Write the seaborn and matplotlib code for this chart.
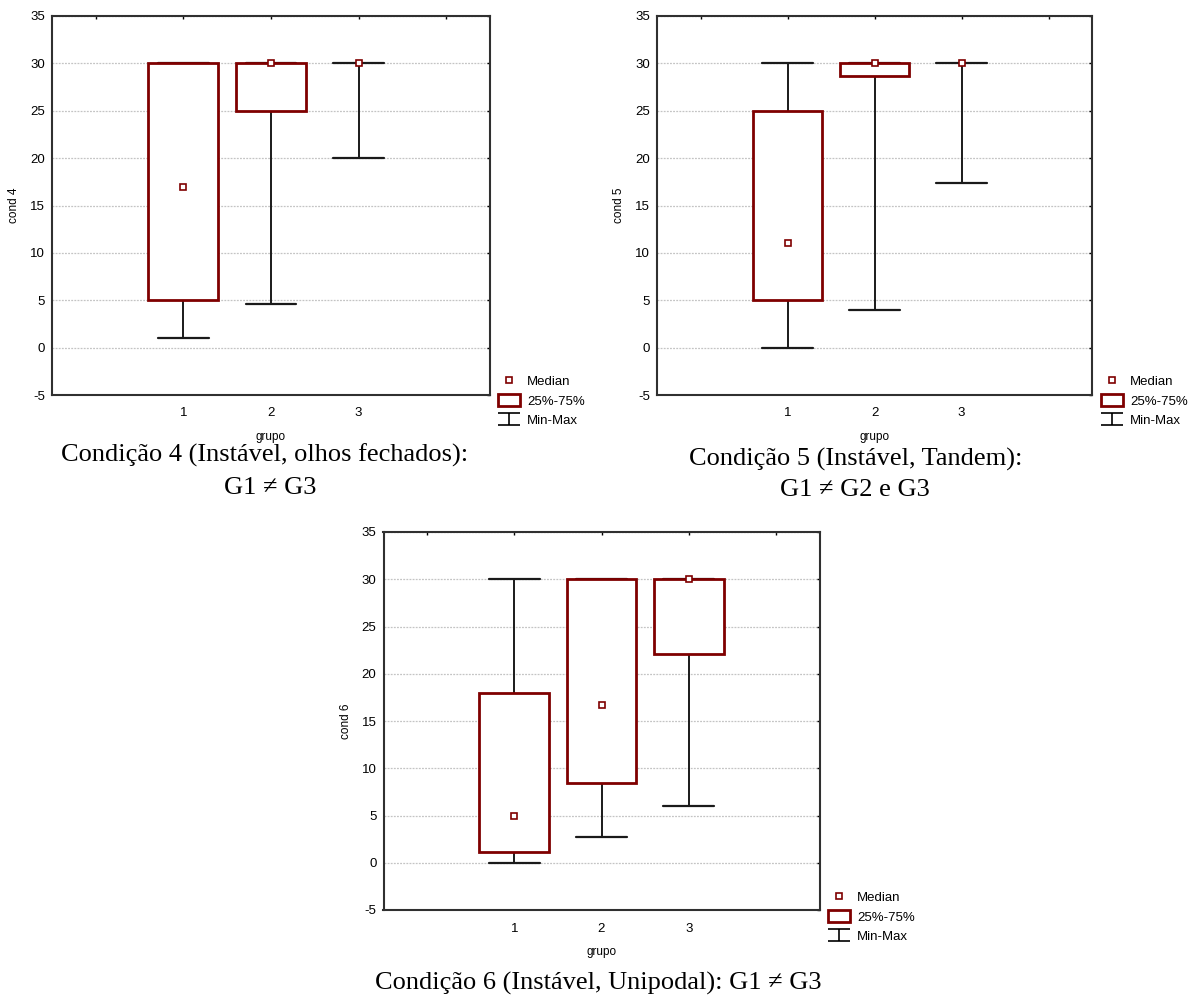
import numpy as np
import pandas as pd
import matplotlib
matplotlib.use('Agg')
import matplotlib.pyplot as plt
from matplotlib.lines import Line2D
from matplotlib.patches import Patch
from matplotlib.path import Path
import seaborn as sns

# Valores (Statistica, Min-Max / 25%-75% / Mediana)
grupos = ['1', '2', '3']

cond4_min = [1.0, 4.6, 20.0]
cond4_q1 = [5.0, 25.0, 30.0]
cond4_med = [17.0, 30.0, 30.0]
cond4_q3 = [30.0, 30.0, 30.0]
cond4_max = [30.0, 30.0, 30.0]

cond5_min = [0.0, 4.0, 17.4]
cond5_q1 = [5.0, 28.7, 30.0]
cond5_med = [11.0, 30.0, 30.0]
cond5_q3 = [25.0, 30.0, 30.0]
cond5_max = [30.0, 30.0, 30.0]

cond6_min = [0.0, 2.7, 6.0]
cond6_q1 = [1.1, 8.4, 22.1]
cond6_med = [5.0, 16.7, 30.0]
cond6_q3 = [18.0, 30.0, 30.0]
cond6_max = [30.0, 30.0, 30.0]

y_ticks = [-5, 0, 5, 10, 15, 20, 25, 30, 35]
legend_labels = ['Median', '25%-75%', 'Min-Max']

sns.set_style('white')
plt.rcParams['font.family'] = ['Liberation Sans', 'DejaVu Sans']
plt.rcParams['axes.unicode_minus'] = False
plt.rcParams['text.color'] = 'black'
plt.rcParams['axes.labelcolor'] = 'black'

RED = '#7f0000'

# marcador "I" para a legenda Min-Max
minmax_marker = Path([(-1, 0.5), (1, 0.5), (0, 0.5), (0, -0.5), (-1, -0.5), (1, -0.5)],
                     [Path.MOVETO, Path.LINETO, Path.MOVETO, Path.LINETO,
                      Path.MOVETO, Path.LINETO])


def make_long(mins, q1s, meds, q3s, maxs):
    # cinco valores por grupo -> quartis exatos com interpolação linear
    rows = []
    for g, a, b, c, d, e in zip(grupos, mins, q1s, meds, q3s, maxs):
        for v in (a, b, c, d, e):
            rows.append({'grupo': g, 'valor': v})
    return pd.DataFrame(rows)


def draw_panel(fig, rect, mins, q1s, meds, q3s, maxs, ylabel, legend_xy):
    ax = fig.add_axes(rect)
    df = make_long(mins, q1s, meds, q3s, maxs)
    ax.yaxis.grid(True, color='#c4c4c4', linestyle=(0, (1.5, 1.0)), linewidth=0.9, zorder=0)
    ax.set_axisbelow(True)
    sns.boxplot(data=df, x='grupo', y='valor', order=grupos, ax=ax,
                whis=(0, 100), width=0.8, capwidths=0.58,
                boxprops={'facecolor': 'white', 'edgecolor': RED, 'linewidth': 2.0, 'zorder': 3},
                whiskerprops={'color': '#1a1a1a', 'linewidth': 1.4},
                capprops={'color': '#1a1a1a', 'linewidth': 1.6},
                medianprops={'visible': False},
                showfliers=False)
    # caixas com altura nula não são desenhadas no original
    for i, p in enumerate(ax.patches):
        if i < len(grupos) and q1s[i] == q3s[i]:
            p.set_visible(False)
    ax.plot(range(len(grupos)), meds, linestyle='none', marker='s', markersize=4.2,
            markerfacecolor='white', markeredgecolor=RED, markeredgewidth=1.2, zorder=5)

    ax.set_xlim(-1.5, 3.5)
    ax.set_ylim(-5, 35)
    ax.set_xticks([-1, 0, 1, 2, 3])
    ax.set_xticklabels([''] + grupos + [''])
    ax.set_yticks(y_ticks)
    ax.tick_params(axis='both', labelsize=9.5, length=2.5, width=1, colors='black',
                   direction='in', top=True, right=True)
    ax.tick_params(axis='x', pad=9)
    ax.tick_params(axis='y', pad=5)
    ax.set_xlabel('grupo', fontsize=8.5, labelpad=8)
    ax.set_ylabel(ylabel, fontsize=8.5, labelpad=7)
    for s in ax.spines.values():
        s.set_color('#303030')
        s.set_linewidth(1.5)

    handles = [
        Line2D([], [], linestyle='none', marker='s', markersize=4.2,
               markerfacecolor='white', markeredgecolor=RED, markeredgewidth=1.2),
        Patch(facecolor='white', edgecolor=RED, linewidth=2.0),
        Line2D([], [], linestyle='none', marker=minmax_marker, markersize=16,
               markerfacecolor='none', markeredgecolor='black', markeredgewidth=1.2),
    ]
    fig.legend(handles, legend_labels, loc='upper left', bbox_to_anchor=legend_xy,
               bbox_transform=fig.transFigure, frameon=False, fontsize=9.5,
               handlelength=1.7, handleheight=1.0, handletextpad=0.5, labelspacing=0.45,
               borderpad=0, borderaxespad=0)
    return ax


fig = plt.figure(figsize=(11.96, 9.98), dpi=100)

draw_panel(fig, [52 / 1196, 1 - 395 / 998, 438 / 1196, 379 / 998],
           cond4_min, cond4_q1, cond4_med, cond4_q3, cond4_max, 'cond 4',
           (498 / 1196, 1 - 375 / 998))
draw_panel(fig, [657 / 1196, 1 - 395 / 998, 435 / 1196, 379 / 998],
           cond5_min, cond5_q1, cond5_med, cond5_q3, cond5_max, 'cond 5',
           (1101 / 1196, 1 - 375 / 998))
draw_panel(fig, [383.5 / 1196, 1 - 910 / 998, 436 / 1196, 378 / 998],
           cond6_min, cond6_q1, cond6_med, cond6_q3, cond6_max, 'cond 6',
           (828 / 1196, 1 - 891 / 998))

serif = ['Liberation Serif', 'DejaVu Serif']
fig.text(265 / 1196, 1 - 455 / 998, 'Condição 4 (Instável, olhos fechados):',
         ha='center', va='center', fontsize=19, family=serif, color='black')
fig.text(270 / 1196, 1 - 488 / 998, 'G1 ≠ G3', ha='center', va='center',
         fontsize=19, family=serif, color='black')
fig.text(856 / 1196, 1 - 459 / 998, 'Condição 5 (Instável, Tandem):',
         ha='center', va='center', fontsize=19, family=serif, color='black')
fig.text(855 / 1196, 1 - 490 / 998, 'G1 ≠ G2 e G3', ha='center', va='center',
         fontsize=19, family=serif, color='black')
fig.text(598 / 1196, 1 - 983 / 998, 'Condição 6 (Instável, Unipodal): G1 ≠ G3',
         ha='center', va='center', fontsize=19, family=serif, color='black')

fig.savefig('out.png', dpi=100, facecolor='white')
